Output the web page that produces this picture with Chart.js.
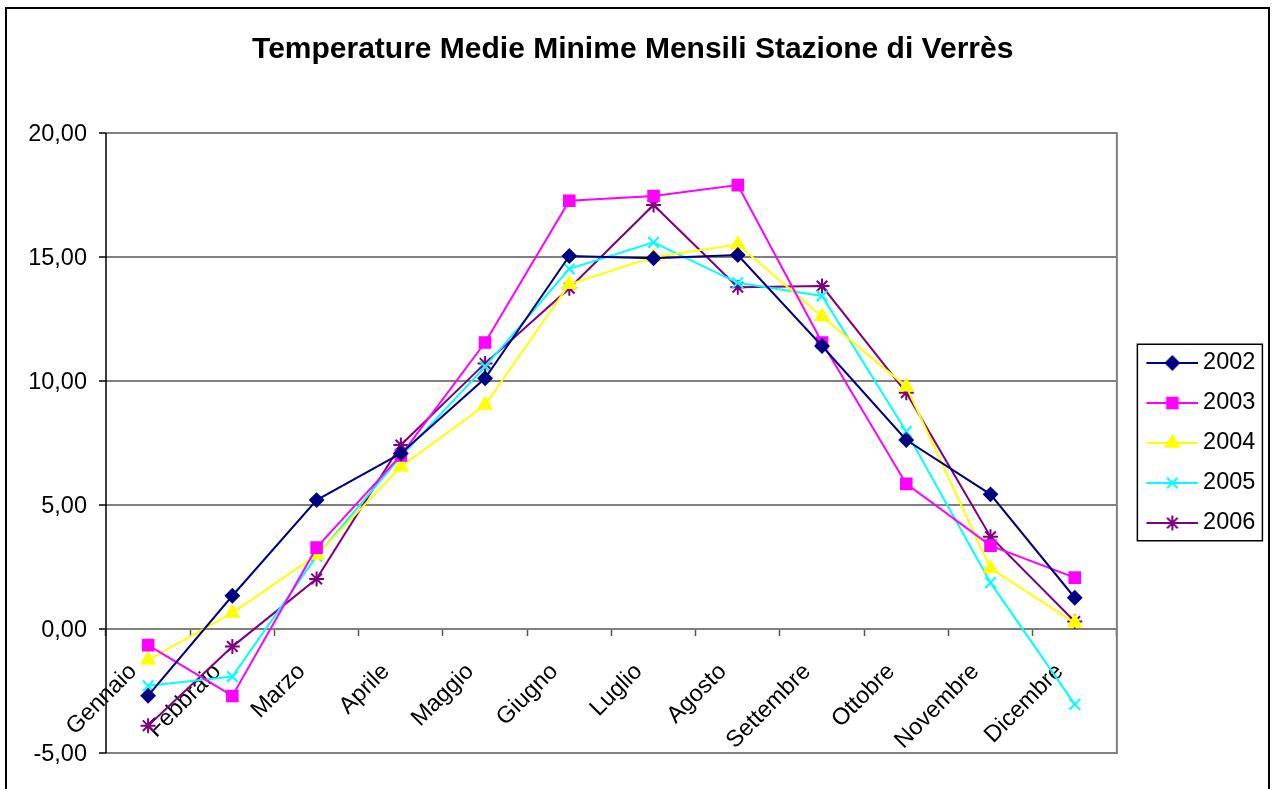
<!DOCTYPE html>
<html>
<head>
<meta charset="utf-8">
<script src="https://cdn.jsdelivr.net/npm/chart.js@4/dist/chart.umd.min.js"></script>
<style>
html,body{margin:0;padding:0;background:#fff;}
#wrap{position:relative;width:1277px;height:789px;}
</style>
</head>
<body>
<div id="wrap"><canvas id="c" width="1277" height="789"></canvas></div>
<script>
const months = ['Gennaio','Febbraio','Marzo','Aprile','Maggio','Giugno','Luglio','Agosto','Settembre','Ottobre','Novembre','Dicembre'];
const y2002 = [-2.69, 1.34, 5.20, 7.08, 10.11, 15.04, 14.95, 15.08, 11.41, 7.62, 5.43, 1.26];
const y2003 = [-0.65, -2.70, 3.28, 7.00, 11.55, 17.27, 17.46, 17.90, 11.55, 5.85, 3.36, 2.07];
const y2004 = [-1.25, 0.65, 2.98, 6.54, 9.03, 13.90, 15.00, 15.50, 12.60, 9.77, 2.45, 0.25];
const y2005 = [-2.29, -1.92, 2.94, 6.95, 10.58, 14.52, 15.59, 13.96, 13.43, 7.96, 1.87, -3.04];
const y2006 = [-3.90, -0.71, 2.02, 7.42, 10.71, 13.74, 17.10, 13.78, 13.83, 9.53, 3.72, 0.30];
const seriesNames = ['2002','2003','2004','2005','2006'];
const yTicks = [-5, 0, 5, 10, 15, 20];
const titleText = 'Temperature Medie Minime Mensili Stazione di Verrès';

const colors = ['#000080','#FF00FF','#FFFF00','#00FFFF','#800080'];
const styles = ['rectRot','rect','triangle','crossRot','star'];
const radii = [6.5, 7.5, 7.5, 7.5, 7.5];
const allData = [y2002, y2003, y2004, y2005, y2006];
const FONT = 'Liberation Sans, Arial, sans-serif';
const FS = 23.5;

// legend swatch: line with marker
function makeSwatch(color, style, radius) {
  const cv = document.createElement('canvas');
  cv.width = 72; cv.height = 20;
  const ctx = cv.getContext('2d');
  ctx.strokeStyle = color; ctx.lineWidth = 2;
  ctx.beginPath(); ctx.moveTo(20, 10); ctx.lineTo(72, 10); ctx.stroke();
  ctx.fillStyle = color;
  Chart.helpers.drawPoint(ctx, {pointStyle: style, radius: radius, borderWidth: 2, rotation: 0}, 46, 10);
  if (style !== 'crossRot' && style !== 'star') ctx.fill();
  return cv;
}
const swatches = seriesNames.map((n, i) => makeSwatch(colors[i], styles[i], radii[i]));

const framePlugin = {
  id: 'frame',
  beforeDraw(chart) {
    const ctx = chart.ctx;
    ctx.save();
    ctx.fillStyle = '#fff';
    ctx.fillRect(0, 0, chart.width, chart.height);
    ctx.strokeStyle = '#000';
    ctx.lineWidth = 2;
    ctx.strokeRect(6, 8, 1263, 800);
    ctx.restore();
  },
  afterDraw(chart) {
    const ctx = chart.ctx;
    const a = chart.chartArea;
    ctx.save();
    ctx.strokeStyle = '#808080';
    ctx.lineWidth = 2;
    ctx.beginPath();
    ctx.moveTo(a.left, a.top); ctx.lineTo(a.right, a.top); ctx.lineTo(a.right, a.bottom); ctx.lineTo(a.left, a.bottom);
    ctx.stroke();
    ctx.strokeStyle = '#000';
    ctx.lineWidth = 1.5;
    ctx.beginPath(); ctx.moveTo(a.left, a.top); ctx.lineTo(a.left, a.bottom); ctx.stroke();
    // legend box
    const lg = chart.legend;
    if (lg && lg.legendHitBoxes && lg.legendHitBoxes.length) {
      const hb = lg.legendHitBoxes;
      const first = hb[0], last = hb[hb.length - 1];
      let maxR = 0;
      hb.forEach(h => { maxR = Math.max(maxR, h.left + h.width); });
      const L = first.left + 4, T = first.top - 7;
      ctx.strokeStyle = '#000';
      ctx.lineWidth = 1.5;
      ctx.strokeRect(L, T, maxR + 7 - L, last.top + last.height + 6 - T);
    }
    ctx.restore();
  }
};

new Chart(document.getElementById('c'), {
  type: 'line',
  data: {
    labels: months,
    datasets: seriesNames.map((n, i) => ({
      label: n,
      data: allData[i],
      borderColor: colors[i],
      backgroundColor: colors[i],
      borderWidth: 2,
      pointStyle: styles[i],
      pointRadius: radii[i],
      pointBorderWidth: 2,
      pointBorderColor: colors[i],
      pointBackgroundColor: colors[i],
      tension: 0,
      fill: false
    }))
  },
  options: {
    responsive: false,
    animation: false,
    devicePixelRatio: 1,
    layout: { padding: { left: 0, right: 11.6, top: 0, bottom: 36 } },
    plugins: {
      title: {
        display: true,
        text: titleText,
        color: '#000',
        font: { family: FONT, size: 30, weight: 'bold', lineHeight: 1.2 },
        padding: { top: 32, bottom: 65 }
      },
      legend: {
        position: 'right',
        align: 'center',
        fullSize: false,
        labels: {
          color: '#000',
          font: { family: FONT, size: FS },
          usePointStyle: true,
          pointStyleWidth: 58,
          boxHeight: FS,
          padding: 16.5,
          generateLabels(chart) {
            return chart.data.datasets.map((ds, i) => ({
              text: ds.label,
              pointStyle: swatches[i],
              fillStyle: ds.borderColor,
              strokeStyle: ds.borderColor,
              lineWidth: 0,
              hidden: false,
              datasetIndex: i
            }));
          }
        }
      },
      tooltip: { enabled: false }
    },
    scales: {
      x: {
        type: 'category',
        position: { y: 0 },
        offset: true,
        grid: { display: true, offset: true, drawOnChartArea: false, drawTicks: true, tickLength: 6, tickColor: '#555', tickWidth: 1.5 },
        border: { display: true, color: '#808080', width: 2 },
        ticks: {
          color: '#000',
          font: { family: FONT, size: FS },
          minRotation: 45, maxRotation: 45,
          autoSkip: false,
          padding: 23,
          labelOffset: -15
        }
      },
      y: {
        type: 'linear',
        min: -5, max: 20,
        afterFit(scale) { scale.width = 106; },
        afterBuildTicks(scale) { scale.ticks = yTicks.map(v => ({ value: v })); },
        grid: { color: '#808080', lineWidth: 2, drawTicks: true, tickLength: 7, tickColor: '#000', tickWidth: 1.5 },
        border: { display: false },
        ticks: {
          color: '#000',
          font: { family: FONT, size: FS },
          padding: 12,
          labelOffset: 2,
          callback: v => v.toFixed(2).replace('.', ',')
        }
      }
    }
  },
  plugins: [framePlugin]
});
</script>
</body>
</html>
